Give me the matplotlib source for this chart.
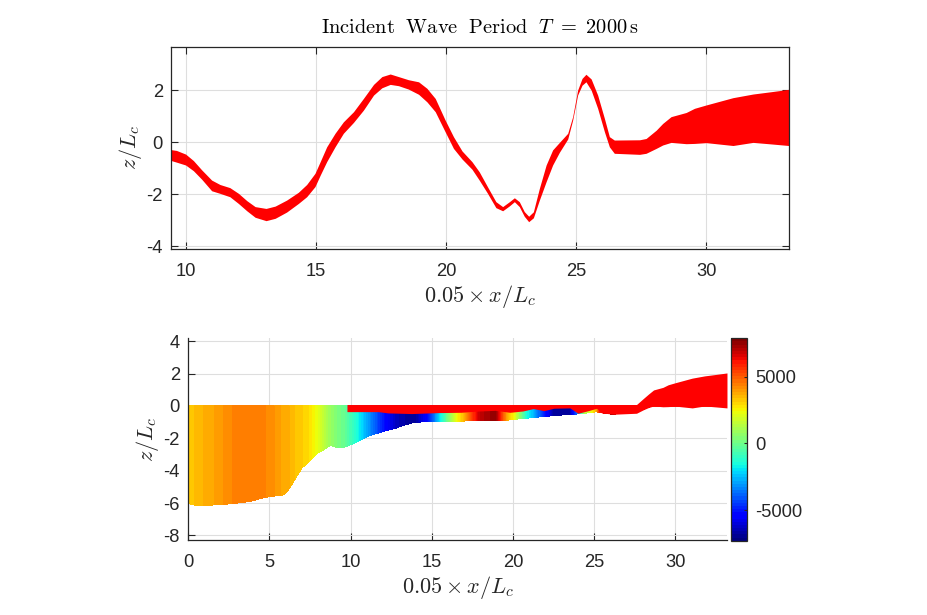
import numpy as np
import matplotlib
matplotlib.use("Agg")
import matplotlib.pyplot as plt

plt.rcParams['font.family'] = ['Liberation Sans', 'DejaVu Sans']
plt.rcParams['mathtext.fontset'] = 'cm'
plt.rcParams['axes.unicode_minus'] = False

# top panel, edges of the red band
top_x = [9.45, 9.65, 10, 10.3, 10.62, 11, 11.32, 11.7, 12.03, 12.35, 12.67, 13.09, 13.44, 13.88, 14.33, 14.65,
         14.97, 15.17, 15.42, 15.74, 16.06, 16.45, 16.83, 17.22, 17.54, 17.86, 18.18, 18.56, 18.95, 19.27,
         19.59, 19.97, 20.29, 20.62, 21, 21.28, 21.6, 21.92, 22.18, 22.44, 22.63, 22.82, 23.01, 23.18, 23.36,
         23.59, 23.85, 24.1, 24.36, 24.68, 24.87, 25.06, 25.23, 25.38, 25.58, 25.83, 26.09, 26.28, 26.47,
         27.44, 27.69, 28.08, 28.33, 28.65, 29.23, 29.55, 30, 31.03, 31.8, 32.5, 33.17]
top_upper = [-0.28, -0.31, -0.45, -0.7, -1.06, -1.45, -1.62, -1.74, -1.96, -2.24, -2.47, -2.54, -2.45, -2.22, -1.92, -1.62,
             -1.19, -0.74, -0.17, 0.35, 0.79, 1.18, 1.69, 2.23, 2.53, 2.63, 2.53, 2.41, 2.33, 2.08,
             1.69, 0.86, 0.22, -0.33, -0.74, -1.13, -1.71, -2.28, -2.47, -2.28, -2.13, -2.28, -2.66, -2.84, -2.67,
             -1.77, -0.87, -0.29, 0, 0.35, 0.99, 2.01, 2.46, 2.62, 2.44, 1.82, 0.92, 0.22, 0.09,
             0.1, 0.15, 0.47, 0.73, 0.99, 1.15, 1.31, 1.44, 1.72, 1.86, 1.95, 2.04]
top_lower = [-0.7, -0.76, -0.87, -1.09, -1.42, -1.86, -1.96, -2.09, -2.35, -2.63, -2.88, -3.01, -2.92, -2.68, -2.35, -2.09,
             -1.7, -1.26, -0.74, -0.17, 0.35, 0.77, 1.24, 1.82, 2.1, 2.23, 2.18, 2.05, 1.85, 1.56,
             1.18, 0.41, -0.23, -0.64, -1.03, -1.45, -1.96, -2.51, -2.63, -2.44, -2.28, -2.47, -2.84, -3.05, -2.9,
             -2.22, -1.51, -0.87, -0.38, 0.13, 0.86, 1.82, 2.2, 2.33, 2.01, 1.31, 0.41, -0.17, -0.42,
             -0.46, -0.42, -0.23, -0.1, 0, -0.05, -0.04, -0.01, -0.12, 0, -0.06, -0.12]

# bottom panel, bed depth and field value at each station
station_x = [0, 0.5, 1.1, 1.8, 2.57, 3.2, 4, 4.4, 5, 5.85, 6.16, 6.47, 7, 7.4, 7.9, 8.4, 8.77, 9.14, 9.55,
             10.16, 10.4, 11.1, 12.1, 12.8, 13.24, 13.96, 14.8, 15.2, 15.6, 16.2, 16.5, 17, 17.5, 18, 18.9,
             19.2, 19.6, 20.1, 20.4, 20.8, 21.25, 21.9, 22.5, 23.5, 24, 24.4, 24.85, 25.15, 25.35, 26.2,
             26.5, 27.5, 28.5, 33.2]
bed_z = [-6.03, -6.15, -6.15, -6.1, -6.05, -5.98, -5.86, -5.72, -5.6, -5.5, -5.2, -4.7, -3.83, -3.46, -2.94,
         -2.67, -2.43, -2.57, -2.57, -2.33, -2.2, -1.85, -1.55, -1.37, -1.2, -1.0, -0.98, -0.96, -0.95,
         -0.94, -0.93, -0.93, -0.92, -0.92, -0.9, -0.9, -0.88, -0.82, -0.8, -0.76, -0.72, -0.65, -0.6,
         -0.52, -0.49, -0.45, -0.4, -0.36, -0.4, -0.53, -0.45, -0.4, -0.03, -0.03]
field_value = [3300, 3400, 3700, 3900, 4300, 4400, 4450, 4450, 4250, 3750, 3650, 3400, 3150, 2900, 2250,
               1300, 700, 300, -100, -1100, -1600, -3200, -5400, -6500, -6800, -7000, -5200, -3500, -1600,
               1000, 2200, 3600, 5500, 7000, 7600, 6000, 3800, 2100, 500, -1500, -2800, -5000, -7000, -7000,
               -3500, 1000, 2300, 3800, 6000, 7700, 6000, 6000, 6000, 6000]

# bottom panel, red band
band_x = [9.77, 11.7, 12.3, 13.75, 15.4, 16.8, 17.9, 18.9, 19.8, 20.6, 21.25, 21.9, 22.5, 23.5, 24, 24.7, 25.15,
          25.45, 26.2, 27.6, 28.03, 28.33, 28.65, 29.23, 29.55, 30, 31.03, 31.8, 32.5, 33.17]
band_upper = [0.09, 0.09, 0.09, 0.09, 0.09, 0.09, 0.09, 0.09, 0.09, 0.09, 0.09, 0.09, 0.09, 0.09, 0.09, 0.09, 0.09,
              0.09, 0.09, 0.09, 0.47, 0.73, 0.99, 1.15, 1.31, 1.44, 1.72, 1.86, 1.95, 2.04]
band_lower = [-0.35, -0.35, -0.43, -0.47, -0.41, -0.39, -0.31, -0.27, -0.39, -0.31, -0.16, -0.29, -0.14, -0.12, -0.45, -0.27, -0.14,
              -0.43, -0.51, -0.45, -0.23, -0.1, 0, -0.05, -0.04, -0.01, -0.12, 0, -0.06, -0.12]

clim = (-7300, 7880)
W, H = 927, 615
dark = '#262626'
tick_size = 13.2
label_size = 16


def add_axes_px(left, top, right, bottom):
    return fig.add_axes([left / W, 1 - bottom / H, (right - left) / W, (bottom - top) / H])


def style(ax):
    ax.grid(True, color='#dedede', linewidth=0.8)
    ax.set_axisbelow(True)
    ax.tick_params(direction='in', length=5, width=0.8, colors=dark, labelsize=tick_size)
    ax.tick_params(axis='x', pad=10)
    ax.tick_params(axis='y', pad=6)
    for s in ax.spines.values():
        s.set_color(dark)
        s.set_linewidth(0.9)


fig = plt.figure(figsize=(W / 100, H / 100), dpi=100)

ax1 = add_axes_px(171.3, 46.7, 788.7, 249)
ax1.fill_between(top_x, top_lower, top_upper, color='#ff0000', linewidth=0)
ax1.set_xlim(9.45, 33.17)
ax1.set_ylim(-4.1, 3.68)
ax1.set_xticks([10, 15, 20, 25, 30])
ax1.set_yticks([-4, -2, 0, 2])
style(ax1)
ax1.tick_params(top=True, right=True)
ax1.set_title(r'$\mathrm{Incident\ \ Wave\ \ Period}\ \ T\ =\ 2000\,\mathrm{s}$', fontsize=14.7, color='black', pad=10)
ax1.set_xlabel(r'$0.05 \times x/L_c$', fontsize=label_size, color=dark, labelpad=2)
ax1.set_ylabel(r'$z/L_c$', fontsize=label_size, color=dark, labelpad=2)

ax2 = add_axes_px(188.3, 338, 727.3, 540.3)
X = np.array([station_x, station_x])
Z = np.array([bed_z, np.zeros(len(bed_z))])
V = np.array([field_value, field_value])
levels = np.linspace(clim[0], clim[1], 65)
cs = ax2.contourf(X, Z, V, levels=levels, cmap='jet', vmin=clim[0], vmax=clim[1], antialiased=False)
ax2.fill_between(band_x, band_lower, band_upper, color='#ff0000', linewidth=0, zorder=3)
ax2.set_xlim(0, 33.19)
ax2.set_ylim(-8.3, 4.2)
ax2.set_xticks([0, 5, 10, 15, 20, 25, 30])
ax2.set_yticks([-8, -6, -4, -2, 0, 2, 4])
style(ax2)
ax2.spines['top'].set_visible(False)
ax2.spines['right'].set_visible(False)
ax2.set_xlabel(r'$0.05 \times x/L_c$', fontsize=label_size, color=dark, labelpad=2)
ax2.set_ylabel(r'$z/L_c$', fontsize=label_size, color=dark, labelpad=2)

cax = add_axes_px(731.3, 338.3, 746.7, 540.7)
sm = plt.cm.ScalarMappable(norm=plt.Normalize(*clim), cmap=plt.get_cmap('jet', 64))
cb = fig.colorbar(sm, cax=cax)
cb.set_ticks([-5000, 0, 5000])
cb.ax.tick_params(direction='in', length=2, width=0.8, colors=dark, labelsize=tick_size, pad=6)
cb.outline.set_edgecolor(dark)
cb.outline.set_linewidth(0.9)

fig.savefig('out.png', dpi=100)
